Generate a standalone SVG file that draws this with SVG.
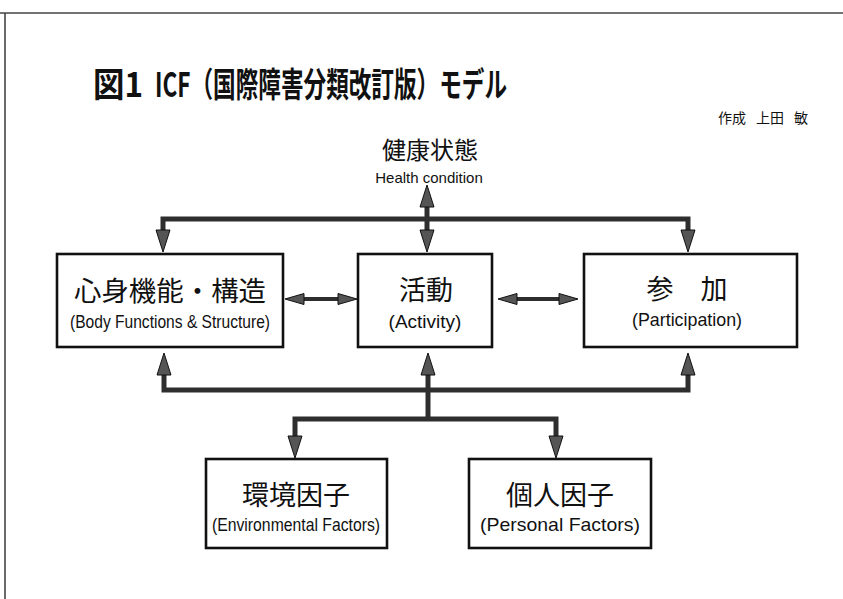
<svg xmlns="http://www.w3.org/2000/svg" width="843" height="599" viewBox="0 0 843 599">
  <style>
    .frame { stroke: #444; stroke-width: 1.6; fill: none; }
    .box { fill: #fff; stroke: #111; stroke-width: 2.6; }
    .conn { fill: none; stroke: #2e2e2e; stroke-width: 5; stroke-linejoin: miter; }
    .conn-s { fill: none; stroke: #2e2e2e; stroke-width: 4; }
    .jp { font-family: "Noto Sans CJK JP", "Noto Sans", sans-serif; fill: #111; }
    .en { font-family: "Liberation Sans", Arial, sans-serif; fill: #111; }
    .title { font-size: 34px; font-weight: 700; }
    .lab { font-size: 27px; text-anchor: middle; }
    .sub { font-size: 19px; text-anchor: middle; }
  </style>
  <defs>
    <marker id="ah" viewBox="0 -7 22 14" refX="0" refY="0" markerWidth="22" markerHeight="14" markerUnits="userSpaceOnUse" orient="auto-start-reverse" overflow="visible">
      <path d="M0,-7 L22,0 L0,7 Z" fill="#555" stroke="#111" stroke-width="1"/>
    </marker>
    <marker id="ahs" viewBox="0 -5.5 19 11" refX="0" refY="0" markerWidth="19" markerHeight="11" markerUnits="userSpaceOnUse" orient="auto-start-reverse" overflow="visible">
      <path d="M0,-5.5 L19,0 L0,5.5 Z" fill="#555" stroke="#111" stroke-width="1"/>
    </marker>
  </defs>

  <g id="frame">
    <path class="frame" d="M0,13 H843"/>
    <path class="frame" d="M5,13 V599"/>
  </g>

  <g id="title">
    <text class="jp title" x="93" y="97" textLength="50" lengthAdjust="spacingAndGlyphs">図1</text>
    <text class="jp title" x="155" y="97" textLength="352" lengthAdjust="spacingAndGlyphs">ICF（国際障害分類改訂版）モデル</text>
    <text class="jp" x="718" y="123" font-size="14"><tspan x="718">作成</tspan><tspan x="756">上田</tspan><tspan x="794">敏</tspan></text>
  </g>

  <g id="health">
    <text class="jp" x="430" y="159" font-size="24" text-anchor="middle">健康状態</text>
    <text class="en" x="429" y="183" font-size="15" text-anchor="middle">Health condition</text>
  </g>

  <g id="connectors">
    <path class="conn" d="M427,207 L427,230" marker-start="url(#ah)" marker-end="url(#ah)"/>
    <path class="conn" d="M163,230 L163,219 L688,219 L688,230" marker-start="url(#ah)" marker-end="url(#ah)"/>
    <path class="conn" d="M164,375 L164,390 L688,390 L688,375" marker-start="url(#ah)" marker-end="url(#ah)"/>
    <path class="conn" d="M428,375 L428,419" marker-start="url(#ah)"/>
    <path class="conn" d="M295,436 L295,419 L556,419 L556,436" marker-start="url(#ah)" marker-end="url(#ah)"/>
    <path class="conn-s" d="M304,299 L338,299" marker-start="url(#ahs)" marker-end="url(#ahs)"/>
    <path class="conn-s" d="M517,299 L559,299" marker-start="url(#ahs)" marker-end="url(#ahs)"/>
  </g>

  <g id="body">
    <rect class="box" x="57" y="254" width="226" height="93"/>
    <text class="jp lab" x="170" y="301" textLength="192" lengthAdjust="spacingAndGlyphs">心身機能・構造</text>
    <text class="en sub" x="170" y="328" textLength="200" lengthAdjust="spacingAndGlyphs">(Body Functions &amp; Structure)</text>
  </g>

  <g id="activity">
    <rect class="box" x="358" y="254" width="134" height="93"/>
    <text class="jp lab" x="426" y="300" font-size="28">活動</text>
    <text class="en sub" x="425" y="328">(Activity)</text>
  </g>

  <g id="participation">
    <rect class="box" x="584" y="254" width="213" height="93"/>
    <text class="jp lab" x="687" y="299">参　加</text>
    <text class="en sub" x="687" y="326" textLength="110" lengthAdjust="spacingAndGlyphs">(Participation)</text>
  </g>

  <g id="environmental">
    <rect class="box" x="206" y="459" width="181" height="89"/>
    <text class="jp lab" x="296" y="505" font-size="28">環境因子</text>
    <text class="en sub" x="296" y="531" textLength="168" lengthAdjust="spacingAndGlyphs">(Environmental Factors)</text>
  </g>

  <g id="personal">
    <rect class="box" x="469" y="459" width="182" height="89"/>
    <text class="jp lab" x="560" y="505" font-size="28">個人因子</text>
    <text class="en sub" x="560" y="531" textLength="160" lengthAdjust="spacingAndGlyphs">(Personal Factors)</text>
  </g>
</svg>
